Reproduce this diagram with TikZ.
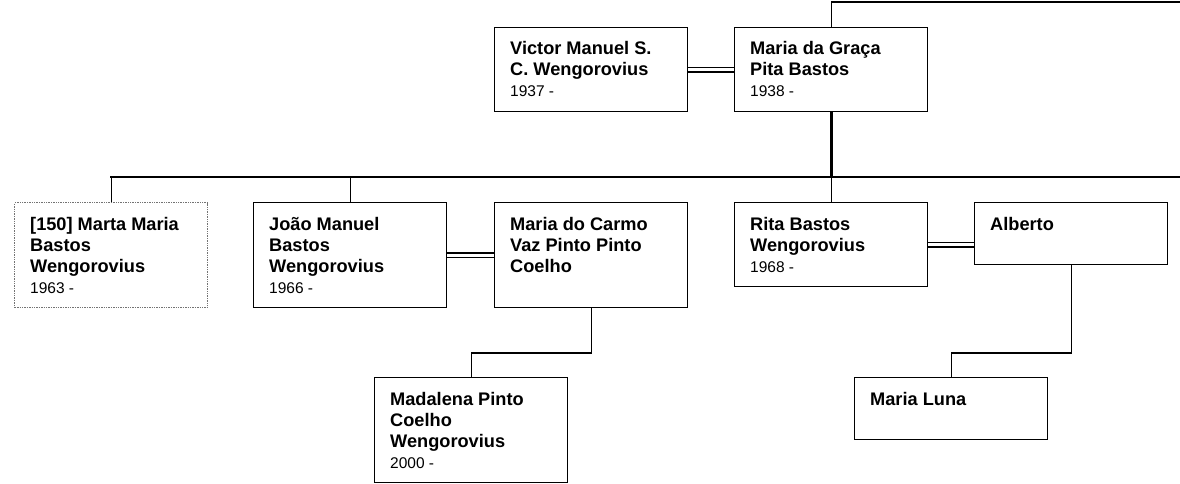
\documentclass[tikz,border=0pt]{standalone}
\usepackage{fontspec}
\setmainfont{Liberation Sans}
\newcommand{\pp}[2]{\vtop{\baselineskip=21pt\lineskiplimit=-100pt\relax\fontsize{18.2}{21}\selectfont\bfseries #1\hbox{\fontsize{15.5}{18}\selectfont\mdseries #2}}}
\tikzset{
  pbox/.style={draw, line width=1.4pt, minimum width=193pt, inner sep=0pt, anchor=north west},
  dotbox/.style={pbox, draw=black!55, densely dotted},
  txt/.style={anchor=base west, inner sep=0pt},
  conn/.style={line width=1.4pt},
  parent/.style={line width=2.6pt},
  couple/.style={double, line width=1.3pt, double distance=3.4pt}
}
\begin{document}
\begin{tikzpicture}[x=1pt, y=-1pt]
\useasboundingbox (0,0) rectangle (1180,484);
% boxes
\node[pbox, minimum height=84pt] (victor) at (494,27) {};
\node[pbox, minimum height=84pt] (graca) at (734,27) {};
\node[dotbox, minimum height=105pt] (marta) at (14,202) {};
\node[pbox, minimum height=105pt] (joao) at (253,202) {};
\node[pbox, minimum height=105pt] (carmo) at (494,202) {};
\node[pbox, minimum height=84pt] (rita) at (734,202) {};
\node[pbox, minimum height=62pt] (alberto) at (974,202) {};
\node[pbox, minimum height=105pt] (madalena) at (374,377) {};
\node[pbox, minimum height=62pt] (luna) at (854,377) {};
% texts
\node[txt] (victorT) at ([shift={(16pt,-28pt)}]victor.north west) {\pp{\hbox{Victor Manuel S.}\hbox{C. Wengorovius}}{1937 -}};
\node[txt] (gracaT) at ([shift={(16pt,-28pt)}]graca.north west) {\pp{\hbox{Maria da Graça}\hbox{Pita Bastos}}{1938 -}};
\node[txt] (martaT) at ([shift={(16pt,-28pt)}]marta.north west) {\pp{\hbox{[150] Marta Maria}\hbox{Bastos}\hbox{Wengorovius}}{1963 -}};
\node[txt] (joaoT) at ([shift={(16pt,-28pt)}]joao.north west) {\pp{\hbox{João Manuel}\hbox{Bastos}\hbox{Wengorovius}}{1966 -}};
\node[txt] (carmoT) at ([shift={(16pt,-28pt)}]carmo.north west) {\pp{\hbox{Maria do Carmo}\hbox{Vaz Pinto Pinto}\hbox{Coelho}}{}};
\node[txt] (ritaT) at ([shift={(16pt,-28pt)}]rita.north west) {\pp{\hbox{Rita Bastos}\hbox{Wengorovius}}{1968 -}};
\node[txt] (albertoT) at ([shift={(16pt,-28pt)}]alberto.north west) {\pp{\hbox{Alberto}}{}};
\node[txt] (madalenaT) at ([shift={(16pt,-28pt)}]madalena.north west) {\pp{\hbox{Madalena Pinto}\hbox{Coelho}\hbox{Wengorovius}}{2000 -}};
\node[txt] (lunaT) at ([shift={(16pt,-28pt)}]luna.north west) {\pp{\hbox{Maria Luna}}{}};
% coordinates
\coordinate (topR) at (1180,2);
\coordinate (barL) at (110,177);
\coordinate (barR) at (1180,177);
\coordinate (mid) at (0,353);
% connectors
\draw[conn] (graca.north) |- (topR);
\draw[couple] (victor.east) -- (graca.west);
\draw[couple] (joao.east) -- (carmo.west);
\draw[couple] (rita.east) -- (alberto.west |- rita.east);
\draw[parent] (graca.south) -- (graca.south |- barL);
\draw[conn] (barL) -- (barR);
\draw[conn] (marta.north) -- (marta.north |- barL);
\draw[conn] (joao.north) -- (joao.north |- barL);
\draw[conn] (rita.north) -- (rita.north |- barL);
\draw[conn] (carmo.south) -- (carmo.south |- mid) -| (madalena.north);
\draw[conn] (alberto.south) -- (alberto.south |- mid) -| (luna.north);
\end{tikzpicture}
\end{document}
